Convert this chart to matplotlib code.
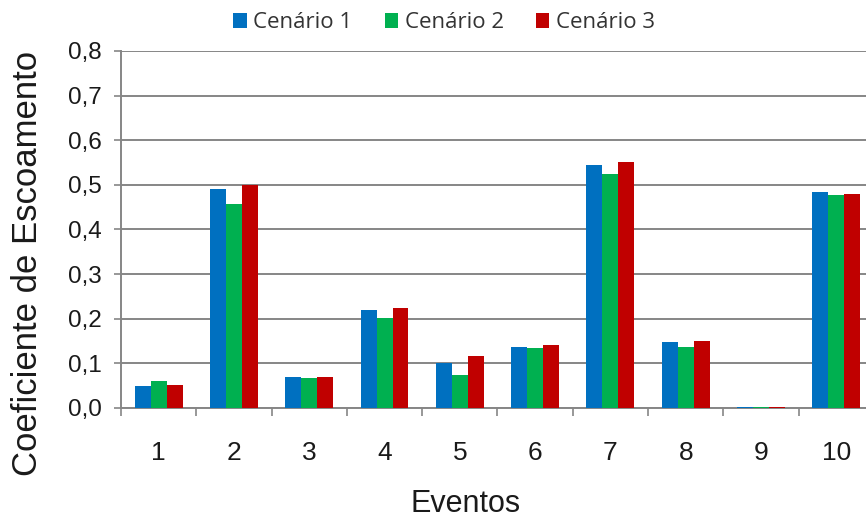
import numpy as np
import matplotlib
matplotlib.use('Agg')
import matplotlib.pyplot as plt
from matplotlib.ticker import FixedLocator, NullFormatter

eventos = ['1', '2', '3', '4', '5', '6', '7', '8', '9', '10']
cenario1 = [0.049, 0.490, 0.070, 0.220, 0.100, 0.137, 0.544, 0.147, 0.003, 0.483]
cenario2 = [0.061, 0.457, 0.067, 0.201, 0.073, 0.134, 0.525, 0.137, 0.003, 0.477]
cenario3 = [0.052, 0.500, 0.070, 0.224, 0.116, 0.141, 0.550, 0.150, 0.003, 0.480]
nomes = ['Cenário 1', 'Cenário 2', 'Cenário 3']
cores = ['#0070C0', '#00B050', '#C00000']
yticks = [0.0, 0.1, 0.2, 0.3, 0.4, 0.5, 0.6, 0.7, 0.8]

plt.rcParams['font.family'] = ['Liberation Sans', 'DejaVu Sans']

fig = plt.figure(figsize=(8.66, 5.19), dpi=100)
ax = fig.add_axes([0.1397, 0.2139, 0.8695, 0.688])

x = np.arange(len(eventos))
w = 0.212
for i, (vals, nome, cor) in enumerate(zip([cenario1, cenario2, cenario3], nomes, cores)):
    ax.bar(x + (i - 1) * w, vals, width=w, color=cor, label=nome, zorder=3)

ax.set_xlim(-0.5, len(eventos) - 0.5)
ax.set_ylim(0, 0.8)

# grid + ticks
ax.set_yticks(yticks)
ax.set_yticklabels([f'{v:.1f}'.replace('.', ',') for v in yticks], fontsize=17.5, color='#1a1a1a')
ax.yaxis.grid(True, color='#868686', linewidth=1.4, zorder=0)
ax.set_xticks(x)
ax.set_xticklabels(eventos, fontsize=19, color='#1a1a1a')
ax.xaxis.set_minor_locator(FixedLocator(np.arange(-0.5, len(eventos), 1.0)))
ax.xaxis.set_minor_formatter(NullFormatter())
ax.tick_params(axis='x', which='major', length=0, pad=24)
ax.tick_params(axis='x', which='minor', length=6, color='#868686', width=1.2)
ax.tick_params(axis='y', length=5, color='#868686', width=1.2, pad=9)

for s in ['top', 'right']:
    ax.spines[s].set_visible(False)
for s in ['left', 'bottom']:
    ax.spines[s].set_color('#868686')
    ax.spines[s].set_linewidth(1.4)

ax.set_ylabel('Coeficiente de Escoamento', fontsize=25, color='#1a1a1a', va='center')
ax.yaxis.set_label_coords(-0.1235, 0.405)
ax.set_xlabel('Eventos', fontsize=22, color='#1a1a1a', va='center')
ax.xaxis.set_label_coords(0.457, -0.269)

leg = fig.legend(loc='center', bbox_to_anchor=(0.513, 0.956), ncol=3, frameon=False,
                 prop={'family': 'Open Sans', 'size': 16}, handlelength=0.6, handleheight=0.6,
                 handletextpad=0.3, columnspacing=1.45)
for t in leg.get_texts():
    t.set_color('#333333')

fig.savefig('out.png', dpi=100)
